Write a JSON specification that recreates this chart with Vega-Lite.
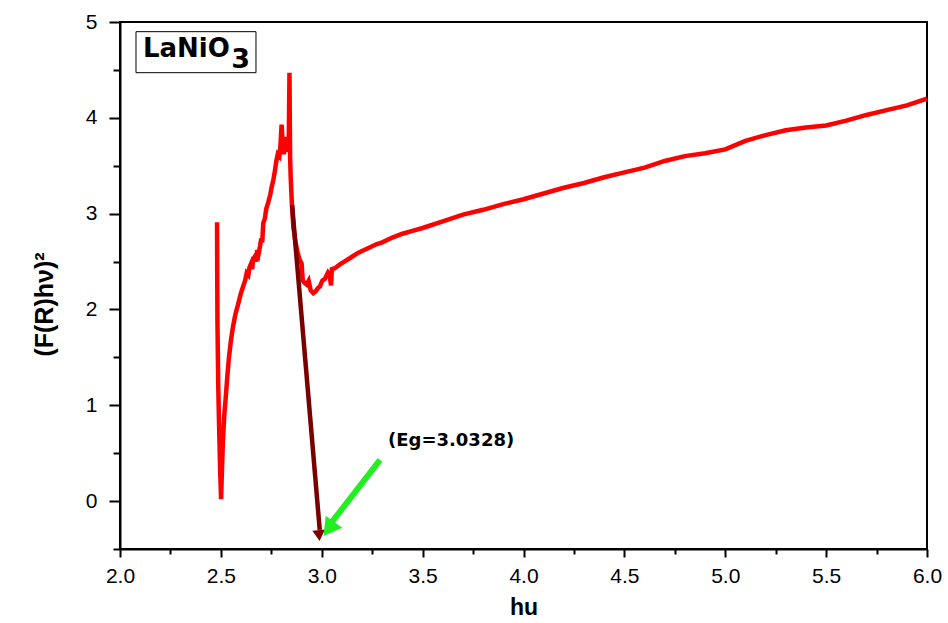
{
  "$schema": "https://vega.github.io/schema/vega-lite/v6.json",
  "width": 807,
  "height": 527,
  "autosize": {"type": "none"},
  "padding": {"left": 120, "top": 22, "right": 21, "bottom": 74},
  "background": "white",
  "config": {
    "view": {"stroke": "black", "strokeWidth": 2},
    "font": "Liberation Sans",
    "axis": {"labelFont": "Liberation Sans", "titleFont": "Liberation Sans", "labelColor": "black", "titleColor": "black", "domainColor": "black", "tickColor": "black", "grid": false}
  },
  "datasets": {
    "curve": [
      {"hv": 2.481, "f": 2.91}, {"hv": 2.482, "f": 2.3}, {"hv": 2.483, "f": 1.87}, {"hv": 2.487, "f": 1.2},
      {"hv": 2.491, "f": 0.8}, {"hv": 2.496, "f": 0.35}, {"hv": 2.501, "f": 0.02}, {"hv": 2.505, "f": 0.3},
      {"hv": 2.51, "f": 0.62}, {"hv": 2.517, "f": 0.9}, {"hv": 2.524, "f": 1.08}, {"hv": 2.532, "f": 1.3},
      {"hv": 2.54, "f": 1.5}, {"hv": 2.55, "f": 1.68}, {"hv": 2.56, "f": 1.82}, {"hv": 2.572, "f": 1.95},
      {"hv": 2.585, "f": 2.05}, {"hv": 2.598, "f": 2.16}, {"hv": 2.61, "f": 2.24}, {"hv": 2.62, "f": 2.3},
      {"hv": 2.628, "f": 2.38}, {"hv": 2.636, "f": 2.36}, {"hv": 2.642, "f": 2.44}, {"hv": 2.65, "f": 2.48},
      {"hv": 2.655, "f": 2.42}, {"hv": 2.66, "f": 2.52}, {"hv": 2.668, "f": 2.55}, {"hv": 2.675, "f": 2.5},
      {"hv": 2.68, "f": 2.62}, {"hv": 2.687, "f": 2.58}, {"hv": 2.694, "f": 2.66}, {"hv": 2.7, "f": 2.74},
      {"hv": 2.705, "f": 2.7}, {"hv": 2.71, "f": 2.9}, {"hv": 2.718, "f": 2.95}, {"hv": 2.725, "f": 3.05},
      {"hv": 2.735, "f": 3.12}, {"hv": 2.745, "f": 3.2}, {"hv": 2.752, "f": 3.28}, {"hv": 2.76, "f": 3.35},
      {"hv": 2.768, "f": 3.45}, {"hv": 2.775, "f": 3.55}, {"hv": 2.782, "f": 3.62}, {"hv": 2.79, "f": 3.6},
      {"hv": 2.795, "f": 3.7}, {"hv": 2.801, "f": 3.93}, {"hv": 2.806, "f": 3.75}, {"hv": 2.812, "f": 3.62},
      {"hv": 2.818, "f": 3.72}, {"hv": 2.824, "f": 3.8}, {"hv": 2.83, "f": 3.7}, {"hv": 2.836, "f": 3.65},
      {"hv": 2.84, "f": 4.47}, {"hv": 2.843, "f": 3.6}, {"hv": 2.846, "f": 3.38}, {"hv": 2.852, "f": 3.1},
      {"hv": 2.86, "f": 2.85}, {"hv": 2.87, "f": 2.7}, {"hv": 2.88, "f": 2.6}, {"hv": 2.89, "f": 2.52},
      {"hv": 2.9, "f": 2.48}, {"hv": 2.906, "f": 2.3}, {"hv": 2.914, "f": 2.28}, {"hv": 2.925, "f": 2.26},
      {"hv": 2.935, "f": 2.3}, {"hv": 2.945, "f": 2.2}, {"hv": 2.958, "f": 2.17}, {"hv": 2.97, "f": 2.19},
      {"hv": 2.98, "f": 2.22}, {"hv": 2.991, "f": 2.24}, {"hv": 3.003, "f": 2.3}, {"hv": 3.016, "f": 2.32},
      {"hv": 3.03, "f": 2.38}, {"hv": 3.04, "f": 2.34}, {"hv": 3.046, "f": 2.25}, {"hv": 3.05, "f": 2.42},
      {"hv": 3.065, "f": 2.43}, {"hv": 3.09, "f": 2.47}, {"hv": 3.12, "f": 2.51}, {"hv": 3.15, "f": 2.55},
      {"hv": 3.18, "f": 2.59}, {"hv": 3.21, "f": 2.62}, {"hv": 3.24, "f": 2.65}, {"hv": 3.27, "f": 2.68},
      {"hv": 3.3, "f": 2.7}, {"hv": 3.35, "f": 2.75}, {"hv": 3.4, "f": 2.79}, {"hv": 3.45, "f": 2.82},
      {"hv": 3.5, "f": 2.85}, {"hv": 3.6, "f": 2.92}, {"hv": 3.7, "f": 2.99}, {"hv": 3.8, "f": 3.04},
      {"hv": 3.9, "f": 3.1}, {"hv": 4.0, "f": 3.15}, {"hv": 4.1, "f": 3.21}, {"hv": 4.2, "f": 3.27},
      {"hv": 4.3, "f": 3.32}, {"hv": 4.4, "f": 3.38}, {"hv": 4.5, "f": 3.43}, {"hv": 4.6, "f": 3.48},
      {"hv": 4.7, "f": 3.55}, {"hv": 4.8, "f": 3.6}, {"hv": 4.9, "f": 3.63}, {"hv": 5.0, "f": 3.67},
      {"hv": 5.1, "f": 3.76}, {"hv": 5.2, "f": 3.82}, {"hv": 5.3, "f": 3.87}, {"hv": 5.4, "f": 3.9},
      {"hv": 5.5, "f": 3.92}, {"hv": 5.6, "f": 3.97}, {"hv": 5.7, "f": 4.03}, {"hv": 5.8, "f": 4.08},
      {"hv": 5.9, "f": 4.13}, {"hv": 6.0, "f": 4.2}
    ]
  },
  "layer": [
    {
      "data": {"name": "curve"},
      "mark": {"type": "line", "color": "#ff0000", "strokeWidth": 4.5, "clip": true},
      "encoding": {
        "x": {"field": "hv", "type": "quantitative", "scale": {"domain": [2, 6], "nice": false, "zero": false},
          "axis": {"orient": "bottom", "values": [2, 2.5, 3, 3.5, 4, 4.5, 5, 5.5, 6], "format": ".1f", "title": "hu",
            "labelFontSize": 21, "titleFontSize": 23, "titleFontWeight": "bold", "tickSize": 8, "tickWidth": 2, "domainWidth": 2,
            "labelPadding": 8, "titlePadding": 10, "labelFlush": false}},
        "y": {"field": "f", "type": "quantitative", "scale": {"domain": [-0.5, 5], "nice": false, "zero": false},
          "axis": {"orient": "left", "values": [0, 1, 2, 3, 4, 5], "format": "d", "title": "(F(R)hν)²",
            "labelFontSize": 21, "titleFontSize": 25, "titleFontWeight": "bold", "tickSize": 11, "tickWidth": 2, "domainWidth": 2,
            "labelPadding": 12, "titleX": -63, "titleY": 282, "titleAngle": -90, "titleBaseline": "bottom"}}
      }
    },
    {
      "data": {"name": "curve"},
      "mark": {"type": "line", "opacity": 0},
      "encoding": {
        "x": {"field": "hv", "type": "quantitative",
          "axis": {"orient": "bottom", "values": [2.25, 2.75, 3.25, 3.75, 4.25, 4.75, 5.25, 5.75], "labels": false, "domain": false, "title": null, "tickSize": 5, "tickWidth": 2}},
        "y": {"field": "f", "type": "quantitative",
          "axis": {"orient": "left", "values": [-0.5, 0.5, 1.5, 2.5, 3.5, 4.5], "labels": false, "domain": false, "title": null, "tickSize": 7, "tickWidth": 2}}
      }
    },
    {
      "data": {"values": [{"x1": 2.0793, "x2": 2.674, "y1": 4.899, "y2": 4.471}]},
      "mark": {"type": "rect", "fill": "white", "stroke": "black", "strokeWidth": 1},
      "encoding": {
        "x": {"field": "x1", "type": "quantitative", "axis": null}, "x2": {"field": "x2"},
        "y": {"field": "y1", "type": "quantitative", "axis": null}, "y2": {"field": "y2"}
      }
    },
    {
      "data": {"values": [{"x": 2.114, "y": 4.638, "t": "LaNiO"}]},
      "mark": {"type": "text", "align": "left", "baseline": "alphabetic", "font": "DejaVu Sans", "fontSize": 26, "fontWeight": "bold", "color": "black"},
      "encoding": {"x": {"field": "x", "type": "quantitative", "axis": null}, "y": {"field": "y", "type": "quantitative", "axis": null}, "text": {"field": "t"}}
    },
    {
      "data": {"values": [{"x": 2.552, "y": 4.525, "t": "3"}]},
      "mark": {"type": "text", "align": "left", "baseline": "alphabetic", "font": "DejaVu Sans", "fontSize": 27, "fontWeight": "bold", "color": "black"},
      "encoding": {"x": {"field": "x", "type": "quantitative", "axis": null}, "y": {"field": "y", "type": "quantitative", "axis": null}, "text": {"field": "t"}}
    },
    {
      "data": {"values": [{"x": 2.853, "y": 3.09, "x2": 2.99, "y2": -0.3}]},
      "mark": {"type": "rule", "color": "#7a0000", "strokeWidth": 4.5},
      "encoding": {"x": {"field": "x", "type": "quantitative", "axis": null}, "y": {"field": "y", "type": "quantitative", "axis": null}, "x2": {"field": "x2"}, "y2": {"field": "y2"}}
    },
    {
      "data": {"values": [{"x": 2.987, "y": -0.36}]},
      "mark": {"type": "point", "shape": "triangle-down", "filled": true, "color": "#7a0000", "opacity": 1, "size": 160, "angle": 355},
      "encoding": {"x": {"field": "x", "type": "quantitative", "axis": null}, "y": {"field": "y", "type": "quantitative", "axis": null}}
    },
    {
      "data": {"values": [{"x": 3.289, "y": 0.43, "x2": 3.05, "y2": -0.22}]},
      "mark": {"type": "rule", "color": "#22ee22", "strokeWidth": 6},
      "encoding": {"x": {"field": "x", "type": "quantitative", "axis": null}, "y": {"field": "y", "type": "quantitative", "axis": null}, "x2": {"field": "x2"}, "y2": {"field": "y2"}}
    },
    {
      "data": {"values": [{"x": 3.035, "y": -0.29}]},
      "mark": {"type": "point", "shape": "triangle-down", "filled": true, "color": "#22ee22", "opacity": 1, "size": 420, "angle": 36},
      "encoding": {"x": {"field": "x", "type": "quantitative", "axis": null}, "y": {"field": "y", "type": "quantitative", "axis": null}}
    },
    {
      "data": {"values": [{"x": 3.641, "y": 0.626, "t": "(Eg=3.0328)"}]},
      "mark": {"type": "text", "align": "center", "baseline": "middle", "font": "DejaVu Sans", "fontSize": 18, "fontWeight": "bold", "color": "black"},
      "encoding": {"x": {"field": "x", "type": "quantitative", "axis": null}, "y": {"field": "y", "type": "quantitative", "axis": null}, "text": {"field": "t"}}
    }
  ],
  "resolve": {"axis": {"x": "independent", "y": "independent"}}
}
